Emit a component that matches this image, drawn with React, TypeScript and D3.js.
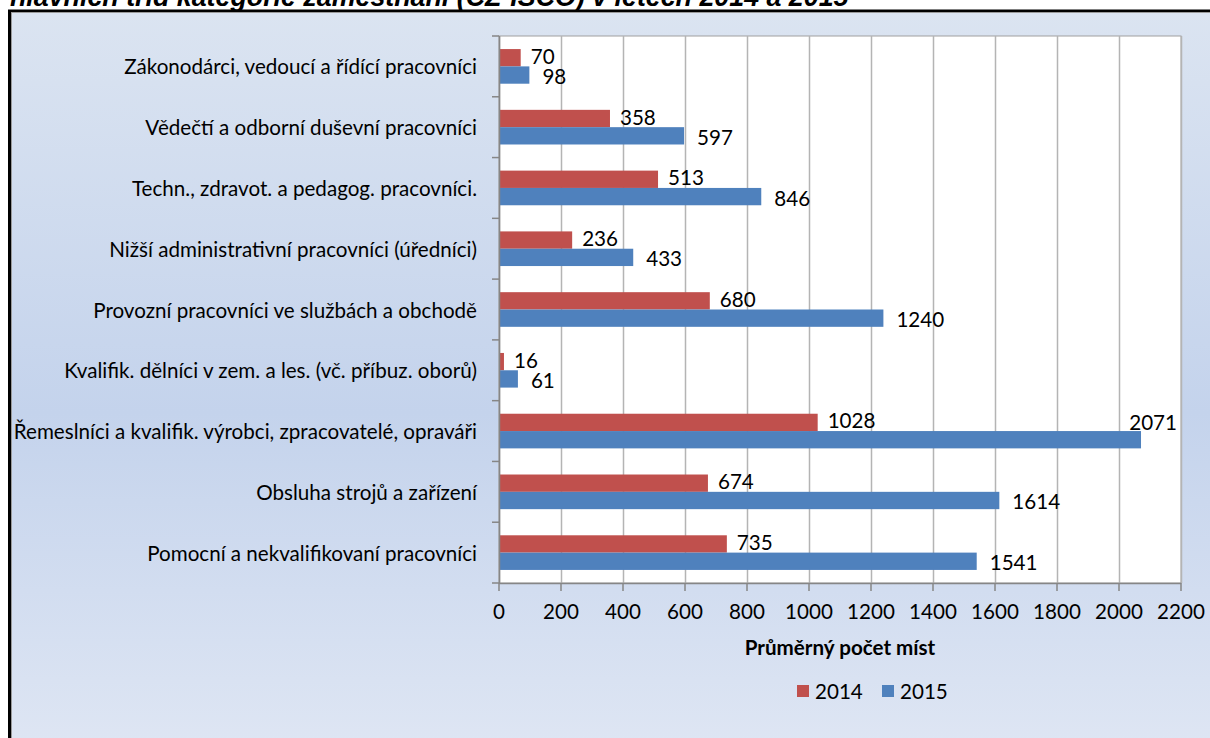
import React from "react";
import * as d3 from "d3";

const categories = [
  "Zákonodárci, vedoucí a řídící pracovníci",
  "Vědečtí a odborní duševní pracovníci",
  "Techn., zdravot. a pedagog. pracovníci.",
  "Nižší administrativní pracovníci (úředníci)",
  "Provozní pracovníci ve službách a obchodě",
  "Kvalifik. dělníci v zem. a les. (vč. příbuz. oborů)",
  "Řemeslníci a kvalifik. výrobci, zpracovatelé, opraváři",
  "Obsluha strojů a zařízení",
  "Pomocní a nekvalifikovaní pracovníci",
];
const values2014 = [70, 358, 513, 236, 680, 16, 1028, 674, 735];
const values2015 = [98, 597, 846, 433, 1240, 61, 2071, 1614, 1541];
const seriesNames = ["2014", "2015"];
const seriesColors = ["#c0504d", "#4f81bd"];
const xTicks = [0, 200, 400, 600, 800, 1000, 1200, 1400, 1600, 1800, 2000, 2200];
const titleText = "hlavních tříd kategorie zaměstnání (CZ-ISCO) v letech 2014 a 2015";
const axisTitle = "Průměrný počet míst";

const W = 1210;
const H = 738;
const plot = { left: 499, right: 1181, top: 36, bottom: 583 };
const FONT = "Lato, 'Open Sans', sans-serif";
const FS = 20.6;

export default function App() {
  const x = d3.scaleLinear().domain([0, 2200]).range([plot.left, plot.right]);
  const y = d3.scaleBand<string>().domain(categories).range([plot.top, plot.bottom]).paddingInner(0).paddingOuter(0);
  const bw = y.bandwidth();
  const barH = bw * 0.285;
  const series = [values2014, values2015];

  const labelDx = [10, 13];
  const labelDy = [-2, 1];

  return (
    <svg width={W} height={H} style={{ position: "absolute", left: 0, top: 0, display: "block" }}>
      <defs>
        <linearGradient id="bg" x1="0" y1="0" x2="0" y2="1">
          <stop offset="0" stopColor="#dbe4f1" />
          <stop offset="0.53" stopColor="#c4d3ec" />
          <stop offset="1" stopColor="#e0e7f4" />
        </linearGradient>
      </defs>
      <rect x={0} y={0} width={W} height={H} fill="#ffffff" />
      {/* frame */}
      <rect x={9.5} y={11} width={W + 20} height={H + 20} fill="url(#bg)" stroke="#000" strokeWidth={3} />
      <line x1={11.5} y1={12.5} x2={11.5} y2={H} stroke="#9a9a9a" strokeWidth={1} />
      <line x1={11} y1={12.5} x2={W} y2={12.5} stroke="#9a9a9a" strokeWidth={1} />
      {/* title (cut off at the top, as in the source) */}
      <text x={10} y={6} fontFamily="'Liberation Sans', Arial, sans-serif" fontWeight="bold" fontStyle="italic" fontSize={26.8} fill="#000">
        {titleText}
      </text>

      {/* plot area */}
      <rect x={plot.left} y={plot.top} width={plot.right - plot.left} height={plot.bottom - plot.top} fill="#fff" stroke="#a0a0a0" strokeWidth={1} />
      {xTicks.map((t) => (
        <line key={"g" + t} x1={Math.round(x(t)) + 0.5} x2={Math.round(x(t)) + 0.5} y1={plot.top} y2={plot.bottom} stroke="#b4b4b4" strokeWidth={1.5} />
      ))}

      {/* bars */}
      {categories.map((c, i) => {
        const cy = (y(c) as number) + bw / 2;
        return series.map((vals, s) => {
          const by = cy - barH + s * barH;
          return (
            <rect key={c + s} x={x(0)} y={by} width={x(vals[i]) - x(0)} height={barH} fill={seriesColors[s]} />
          );
        });
      })}

      {/* data labels */}
      {categories.map((c, i) => {
        const cy = (y(c) as number) + bw / 2;
        return series.map((vals, s) => {
          const barMid = cy - barH + s * barH + barH / 2;
          let lx = x(vals[i]) + labelDx[s];
          let anchor: "start" | "end" = "start";
          let ly = barMid + labelDy[s];
          const estW = String(vals[i]).length * 11.8;
          if (lx + estW > plot.right) {
            lx = plot.right - 4;
            anchor = "end";
            ly = barMid - barH;
          }
          return (
            <text key={"l" + c + s} x={lx} y={ly} textAnchor={anchor} dominantBaseline="central" fontFamily={FONT} fontSize={FS} fill="#000">
              {vals[i]}
            </text>
          );
        });
      })}

      {/* axes */}
      <line x1={plot.left + 0.5} x2={plot.left + 0.5} y1={plot.top} y2={plot.bottom} stroke="#868686" strokeWidth={1.5} />
      <line x1={plot.left} x2={plot.right} y1={plot.bottom + 0.5} y2={plot.bottom + 0.5} stroke="#868686" strokeWidth={1.5} />
      {d3.range(categories.length + 1).map((k) => {
        const yy = plot.top + k * bw;
        return <line key={"ct" + k} x1={plot.left - 7} x2={plot.left} y1={yy} y2={yy} stroke="#868686" strokeWidth={1.5} />;
      })}
      {xTicks.map((t) => (
        <line key={"xt" + t} x1={x(t)} x2={x(t)} y1={plot.bottom} y2={plot.bottom + 8} stroke="#868686" strokeWidth={1.5} />
      ))}
      {xTicks.map((t) => (
        <text key={"xl" + t} x={x(t)} y={611} textAnchor="middle" dominantBaseline="central" fontFamily={FONT} fontSize={FS} fill="#000">
          {t}
        </text>
      ))}
      {categories.map((c) => (
        <text key={"cl" + c} x={477} y={(y(c) as number) + bw / 2} textAnchor="end" dominantBaseline="central" fontFamily={FONT} fontSize={FS} fill="#000">
          {c}
        </text>
      ))}
      <text x={(plot.left + plot.right) / 2} y={647} textAnchor="middle" dominantBaseline="central" fontFamily={FONT} fontWeight="bold" fontSize={FS} fill="#000">
        {axisTitle}
      </text>

      {/* legend */}
      {seriesNames.map((n, s) => {
        const lx = 797 + s * 85;
        return (
          <g key={"lg" + n}>
            <rect x={lx} y={685} width={12} height={12} fill={seriesColors[s]} />
            <text x={lx + 18} y={691} dominantBaseline="central" fontFamily={FONT} fontSize={FS} fill="#000">
              {n}
            </text>
          </g>
        );
      })}
    </svg>
  );
}
